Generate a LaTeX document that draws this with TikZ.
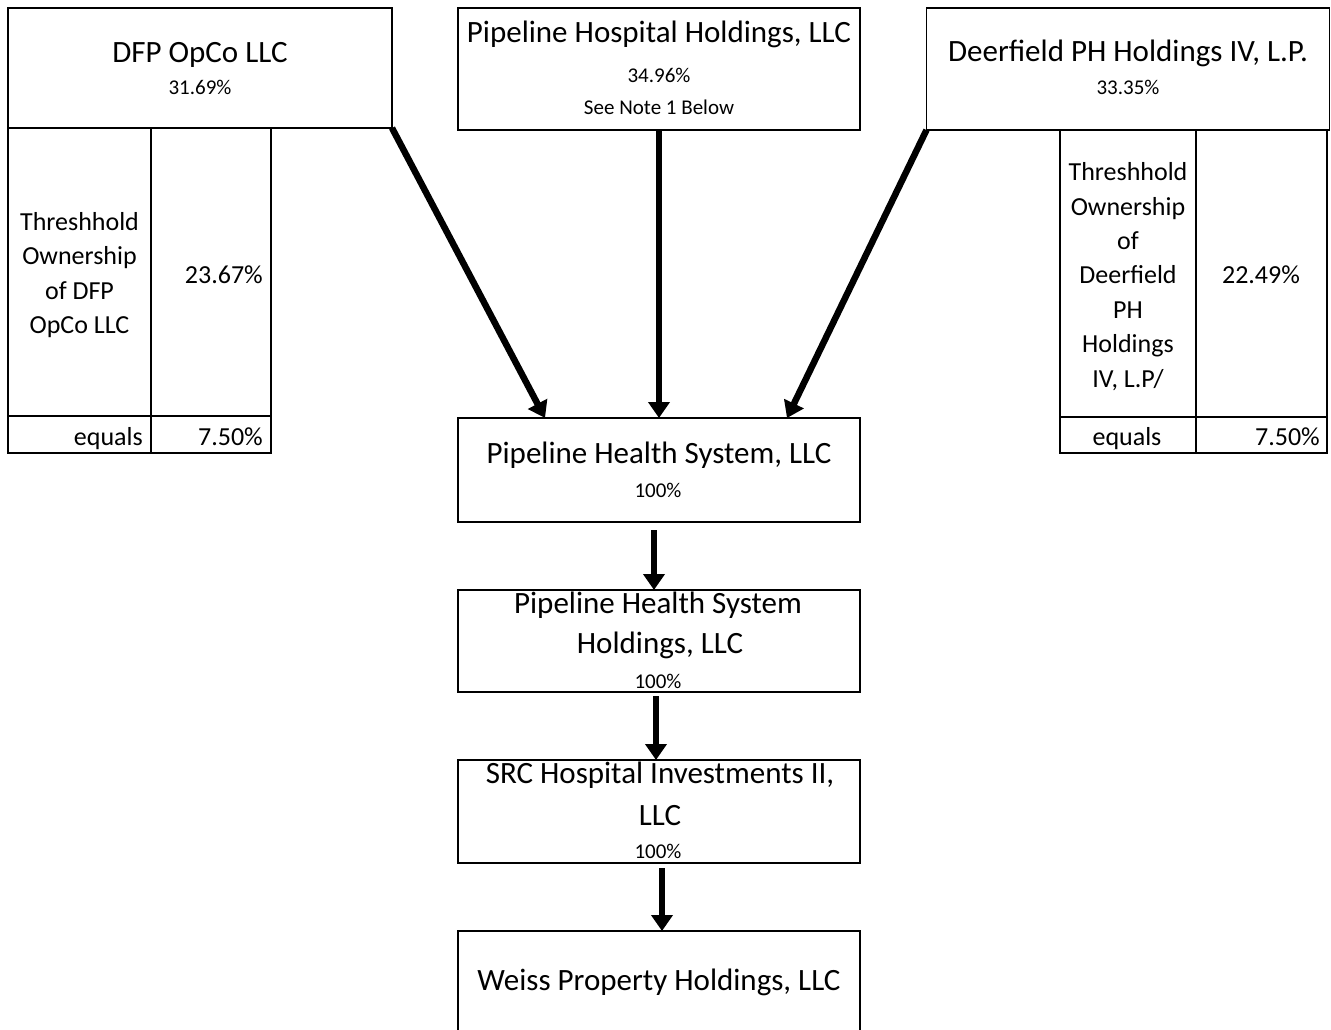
\documentclass[tikz,border=0pt]{standalone}
\usepackage{fontspec}
\setmainfont{Carlito}
\usetikzlibrary{arrows.meta}
\begin{document}
\begin{tikzpicture}[x=1pt,y=-1pt,
 box/.style={draw,line width=1.8pt,rectangle,inner sep=0pt,outer sep=0pt},
 cell/.style={draw,line width=1.6pt,rectangle,inner sep=0pt,outer sep=0pt},
 big/.style={font=\fontsize{31}{37}\selectfont,inner sep=0pt,anchor=base},
 small/.style={font=\fontsize{21}{25}\selectfont,inner sep=0pt,anchor=base},
 tab/.style={font=\fontsize{26}{34.4}\selectfont,inner sep=0pt,align=center},
 tabone/.style={font=\fontsize{26}{31}\selectfont,inner sep=0pt},
 own/.style={line width=6.5pt,-{Triangle[width=21pt,length=16pt]}}]
\useasboundingbox (0,0) rectangle (1331,1030);
\clip (0,0) rectangle (1331,1030);
% main boxes
\node[box,minimum width=384pt,minimum height=120pt] (dfp) at (200,68) {};
\node[box,minimum width=402pt,minimum height=122pt] (phh) at (659,69) {};
\node[box,minimum width=403pt,minimum height=122pt] (dph) at (1128,69) {};
\node[box,minimum width=402pt,minimum height=104pt] (phs) at (659,470) {};
\node[box,minimum width=402pt,minimum height=102pt] (phsh) at (659,641) {};
\node[box,minimum width=402pt,minimum height=103pt] (src) at (659,811.5) {};
\node[box,minimum width=402pt,minimum height=114pt] (weiss) at (659,988) {};
% left table
\node[cell,minimum width=143pt,minimum height=288pt] (lt1) at (79.5,272) {};
\node[cell,minimum width=120pt,minimum height=288pt] (lt2) at (211,272) {};
\node[cell,minimum width=143pt,minimum height=37pt] (lt3) at (79.5,434.5) {};
\node[cell,minimum width=120pt,minimum height=37pt] (lt4) at (211,434.5) {};
% right table
\node[cell,minimum width=136pt,minimum height=287pt] (rt1) at (1128,273.5) {};
\node[cell,minimum width=131pt,minimum height=287pt] (rt2) at (1261.5,273.5) {};
\node[cell,minimum width=136pt,minimum height=36pt] (rt3) at (1128,435) {};
\node[cell,minimum width=131pt,minimum height=36pt] (rt4) at (1261.5,435) {};
% texts
\node[big] (dfpT) at (200,63) {DFP OpCo LLC};
\node[small] (dfpP) at (200,95) {31.69\%};
\node[big] (phhT) at (659,43) {Pipeline Hospital Holdings, LLC};
\node[small] (phhP) at (659,83) {34.96\%};
\node[small] (phhN) at (659,115) {See Note 1 Below};
\node[big] (dphT) at (1128,62) {Deerfield PH Holdings IV, L.P.};
\node[small] (dphP) at (1128,95) {33.35\%};
\node[big] (phsT) at (659,463) {Pipeline Health System, LLC};
\node[small] (phsP) at (658,497) {100\%};
\node[big] (phshA) at (658,613) {Pipeline Health System};
\node[big] (phshB) at (660,653) {Holdings, LLC};
\node[small] (phshP) at (658,688) {100\%};
\node[big] (srcA) at (660,783) {SRC Hospital Investments II,};
\node[big] (srcB) at (660,825) {LLC};
\node[small] (srcP) at (658,858) {100\%};
\node[big] (wT) at (659,990) {Weiss Property Holdings, LLC};
% table texts
\node[tab] (ltA) at (79.5,275) {Threshhold\\Ownership\\of DFP\\OpCo LLC};
\node[tabone,anchor=base east] (ltB) at (263,283) {23.67\%};
\node[tabone,anchor=base east] (ltC) at (143,445) {equals};
\node[tabone,anchor=base east] (ltD) at (263,445) {7.50\%};
\node[tab] (rtA) at (1128,276.5) {Threshhold\\Ownership\\of\\Deerfield\\PH\\Holdings\\IV, L.P/};
\node[tabone,anchor=base] (rtB) at (1261,283) {22.49\%};
\node[tabone,anchor=base] (rtC) at (1127,445) {equals};
\node[tabone,anchor=base east] (rtD) at (1320,445) {7.50\%};
% connectors
\draw[own] (dfp.south east) -- ([xshift=-114pt]phs.north);
\draw[own] (phh.south) -- (phs.north);
\draw[own] (dph.south west) -- ([xshift=128pt]phs.north);
\draw[own] ([xshift=-5pt,yshift=-8pt]phs.south) -- ([xshift=-5pt]phsh.north);
\draw[own] ([xshift=-3pt,yshift=-4pt]phsh.south) -- ([xshift=-3pt]src.north);
\draw[own] ([xshift=3pt,yshift=-5pt]src.south) -- ([xshift=3pt]weiss.north);
\end{tikzpicture}
\end{document}
